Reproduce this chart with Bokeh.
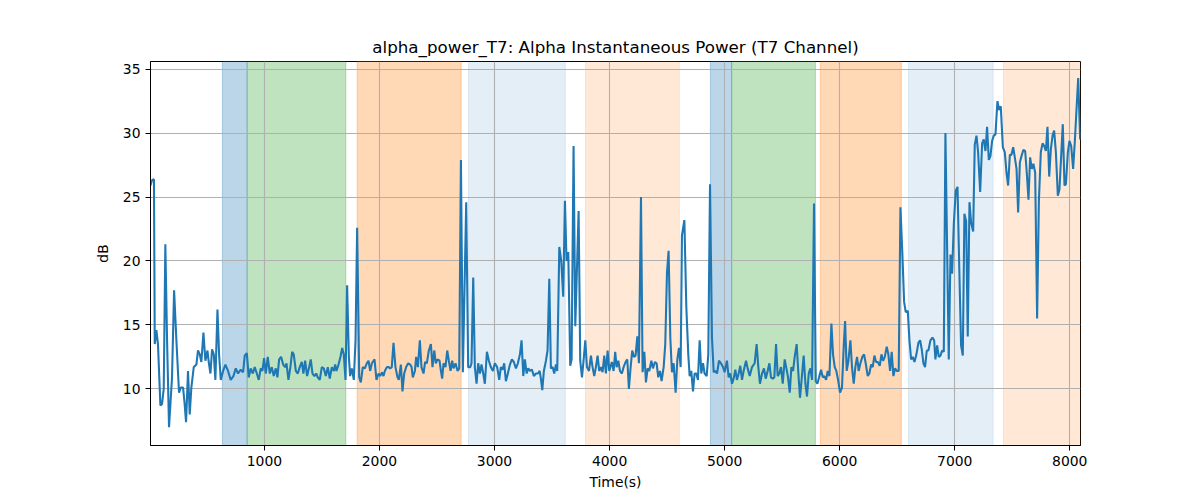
from bokeh.plotting import figure
from bokeh.models import Range1d, BoxAnnotation, FixedTicker, ColumnDataSource
from bokeh.embed import file_html
from bokeh.resources import INLINE

title_text = "alpha_power_T7: Alpha Instantaneous Power (T7 Channel)"
x_label = "Time(s)"
y_label = "dB"

x_ticks = [1000, 2000, 3000, 4000, 5000, 6000, 7000, 8000]
y_ticks = [10, 15, 20, 25, 30, 35]

# shaded intervals (start, end) with colour and opacity
span_starts = [635, 850, 1806, 2774, 3791, 4876, 5061, 5832, 6597, 7423]
span_ends = [850, 1708, 2710, 3615, 4606, 5061, 5789, 6536, 7334, 8093]
span_colors = ["#1f77b4", "#2ca02c", "#ff7f0e", "#1f77b4", "#ff7f0e",
               "#1f77b4", "#2ca02c", "#ff7f0e", "#1f77b4", "#ff7f0e"]
span_alphas = [0.3, 0.3, 0.3, 0.12, 0.17, 0.3, 0.3, 0.3, 0.12, 0.17]

time_s = [
    10, 22, 40, 47, 61, 75, 96, 110, 125, 139, 154, 171, 197, 215, 235, 258, 273, 293, 307, 319,
    336, 351, 365, 386, 409, 423, 438, 452, 470, 487, 505, 516, 531, 545, 560, 574, 592, 606, 621, 641,
    661, 684, 707, 731, 751, 771, 794, 815, 829, 847, 864, 881, 899, 916, 934, 951, 968, 983, 997,
    1012, 1029, 1047,
    1064, 1081, 1099, 1113, 1128, 1145, 1163, 1180, 1192, 1209, 1226, 1241, 1255, 1273, 1290, 1307,
    1325, 1339, 1354, 1371, 1389, 1403, 1418, 1435, 1450, 1464, 1481, 1499, 1516, 1534, 1551, 1568,
    1586, 1603, 1615, 1626, 1644, 1661, 1676, 1690, 1705, 1719, 1734, 1745, 1760, 1777, 1792, 1806,
    1824, 1838, 1855, 1873, 1890, 1905, 1919, 1934, 1957, 1974, 1992,
    2006, 2023, 2035, 2047, 2064, 2081, 2093, 2107, 2122, 2139, 2157, 2168, 2186, 2200, 2215, 2232,
    2250, 2267, 2279, 2290, 2308, 2319, 2334, 2351, 2365, 2383, 2397, 2412, 2429, 2447, 2461, 2476,
    2490, 2505, 2522, 2534, 2545, 2557, 2574, 2589, 2603, 2618, 2632, 2644, 2661, 2679, 2693, 2708,
    2725, 2754, 2771, 2789, 2800, 2815, 2829, 2844, 2858, 2873, 2887, 2902, 2916, 2934, 2951, 2968,
    2986, 3003,
    3023, 3041, 3055, 3070, 3084, 3099, 3116, 3134, 3151, 3168, 3186, 3203, 3221, 3235, 3250, 3264,
    3279, 3293, 3308, 3325, 3342, 3360, 3377, 3392, 3403, 3415, 3429, 3447, 3461, 3476, 3490, 3505,
    3519, 3534, 3545, 3563, 3580, 3597, 3612, 3626, 3641, 3658, 3670, 3687, 3702, 3731, 3745, 3760,
    3774, 3789, 3803, 3821, 3838, 3852, 3867, 3881, 3896, 3910, 3925, 3939, 3954, 3968, 3983, 3997,
    4020, 4035, 4049, 4061, 4076, 4090, 4107, 4122, 4139, 4154, 4168, 4183, 4197, 4212, 4226, 4241,
    4255, 4273, 4287, 4302, 4316, 4331, 4345, 4363, 4377, 4394, 4409, 4423, 4438, 4452, 4470, 4484,
    4499, 4513, 4528, 4542, 4557, 4574, 4589, 4603, 4618, 4629, 4650, 4667, 4684, 4696, 4710, 4725,
    4739, 4754, 4768, 4783, 4797, 4812, 4826, 4844, 4858, 4873, 4890, 4905, 4919, 4934, 4951, 4968,
    4986, 5000,
    5020, 5035, 5049, 5064, 5078, 5093, 5107, 5122, 5136, 5151, 5165, 5186, 5200, 5218, 5238, 5261,
    5278, 5293, 5307, 5325, 5342, 5357, 5374, 5389, 5403, 5418, 5432, 5447, 5461, 5476, 5490, 5505,
    5522, 5537, 5551, 5566, 5580, 5595, 5609, 5626, 5641, 5655, 5670, 5687, 5702, 5716, 5731, 5745,
    5760, 5777, 5792, 5806, 5821, 5838, 5853, 5867, 5882, 5896, 5911, 5928, 5942, 5957, 5971, 5986,
    6003,
    6020, 6035, 6047, 6061, 6076, 6093, 6107, 6122, 6136, 6151, 6165, 6180, 6197, 6212, 6226, 6244,
    6258, 6273, 6287, 6302, 6316, 6331, 6348, 6363, 6377, 6392, 6409, 6423, 6438, 6452, 6467, 6481,
    6496, 6513, 6528, 6545, 6560, 6574, 6592, 6606, 6621, 6635, 6650, 6667, 6684, 6699, 6713, 6728,
    6742, 6757, 6771, 6789, 6806, 6821, 6832, 6847, 6861, 6876, 6890, 6905, 6919, 6948, 6963, 6977,
    6992, 7009, 7024,
    7041, 7055, 7070, 7084, 7099, 7113, 7128, 7142, 7160, 7174, 7189, 7203, 7221, 7238, 7252, 7267,
    7281, 7296, 7310, 7325, 7339, 7354, 7371, 7386, 7400, 7418, 7435, 7450, 7464, 7479, 7493, 7508,
    7522, 7537, 7551, 7566, 7580, 7597, 7612, 7626, 7641, 7655, 7670, 7684, 7699, 7716, 7731, 7748,
    7763, 7777, 7792, 7806, 7821, 7835, 7850, 7864, 7879, 7896, 7910, 7925, 7939, 7954, 7966, 7983,
    7997, 8012, 8029, 8044, 8058, 8073, 8090,
]

power_db = [
    25.9, 26.3, 26.4, 13.5, 14.6, 13.5, 8.7, 8.8, 10.0, 21.3, 13.8, 7.0, 10.9, 17.7, 13.8, 9.7, 10.1, 10.1, 8.8, 7.4,
    11.4, 8.0, 10.1, 11.7, 11.9, 13.0, 12.7, 12.1, 14.4, 12.2, 13.0, 12.1, 11.2, 13.1, 12.7, 10.7, 16.2, 12.7, 10.7, 11.4,
    11.9, 11.4, 10.7, 11.0, 11.6, 11.2, 11.5, 11.3, 12.6, 12.8, 10.9, 11.6, 11.2, 11.7, 11.2, 10.7, 11.6, 11.4, 12.4,
    11.2, 12.5, 11.2,
    11.7, 11.0, 11.6, 10.9, 12.3, 12.5, 11.9, 11.7, 12.0, 10.7, 11.7, 12.9, 12.7, 11.4, 11.2, 11.7,
    12.1, 11.2, 12.2, 11.0, 11.7, 12.3, 11.2, 11.0, 11.2, 10.9, 10.7, 11.7, 11.6, 11.0, 11.7, 10.8,
    11.7, 11.4, 11.9, 11.4, 11.9, 12.5, 13.2, 12.7, 10.7, 18.1, 12.5, 11.0, 11.6, 10.7, 13.8, 22.6,
    10.9, 10.5, 11.7, 11.6, 12.0, 12.2, 11.4, 12.0, 12.3, 10.7, 11.2,
    11.0, 11.3, 11.0, 11.4, 11.7, 11.7, 11.6, 11.7, 13.6, 11.7, 10.9, 10.7, 11.9, 9.8, 11.2, 11.7,
    12.0, 11.9, 11.7, 10.9, 11.4, 12.5, 11.7, 13.8, 11.7, 11.2, 12.1, 12.0, 13.0, 13.5, 11.7, 13.0,
    12.0, 12.3, 12.2, 11.4, 10.8, 12.0, 11.7, 13.0, 12.2, 11.4, 12.2, 11.6, 12.0, 11.4, 11.6, 27.9,
    11.3, 24.6, 11.7, 11.7, 12.0, 18.7, 11.7, 10.4, 12.0, 11.2, 11.9, 11.2, 10.4, 12.9, 12.2, 11.7,
    11.4, 12.0,
    11.7, 10.7, 11.7, 11.5, 12.0, 10.6, 11.2, 11.9, 12.3, 12.1, 11.6, 12.0, 12.7, 13.8, 11.0, 12.3,
    11.2, 11.6, 11.4, 11.5, 11.0, 11.2, 11.2, 11.4, 10.8, 9.9, 11.4, 12.2, 13.0, 18.6, 11.6, 11.7,
    11.2, 11.9, 11.4, 21.1, 20.0, 17.2, 24.7, 20.0, 20.7, 11.8, 12.3, 29.0, 14.9, 23.9, 12.2, 10.9,
    12.2, 13.8, 11.7, 11.4, 12.6, 11.7, 11.0, 11.7, 12.6, 11.4, 11.7, 11.3, 12.6, 11.2, 13.0, 11.4,
    12.1, 11.4, 12.9, 11.7, 12.2, 11.4, 11.2, 11.7, 12.1, 12.3, 10.0, 11.7, 13.0, 12.5, 12.6, 14.1,
    12.0, 25.0, 11.3, 12.9, 10.5, 11.6, 11.4, 12.2, 11.6, 12.1, 12.0, 10.9, 11.4, 10.6, 11.7, 13.5,
    19.1, 20.8, 14.0, 11.3, 12.0, 9.7, 12.3, 13.2, 11.7, 22.0, 23.2, 16.4, 12.7, 11.0, 11.4, 9.8,
    11.2, 11.2, 10.7, 13.8, 11.2, 12.0, 11.2, 11.0, 12.7, 26.0, 14.0, 11.3, 11.4, 11.2, 12.2, 12.0,
    11.7, 11.3,
    12.2, 10.9, 11.2, 10.4, 10.8, 11.5, 10.7, 11.2, 11.8, 10.7, 11.4, 12.2, 11.6, 11.0, 11.7, 12.0,
    13.5, 11.7, 10.4, 11.2, 11.6, 10.8, 11.4, 12.0, 10.9, 10.8, 10.9, 13.5, 11.0, 11.2, 11.7, 10.4,
    12.3, 11.6, 10.9, 9.7, 11.7, 11.4, 12.5, 13.5, 11.2, 9.3, 10.8, 12.6, 10.4, 9.4, 11.2, 11.6,
    10.7, 24.5, 10.6, 10.4, 10.9, 11.5, 10.9, 11.0, 10.7, 11.4, 11.0, 15.1, 12.7, 11.7, 11.4, 10.7,
    9.7,
    10.1, 13.3, 15.3, 11.4, 12.2, 13.8, 11.7, 10.4, 11.7, 12.5, 11.4, 12.0, 12.5, 12.7, 12.0, 11.0,
    11.2, 11.9, 11.7, 12.6, 12.1, 12.1, 11.8, 12.7, 12.2, 12.5, 13.3, 12.7, 11.4, 12.9, 11.0, 11.6,
    11.4, 11.4, 24.2, 20.5, 16.8, 16.0, 16.1, 13.8, 12.3, 12.5, 12.1, 12.7, 13.6, 13.8, 13.1, 12.0,
    11.7, 13.0, 13.0, 13.8, 14.0, 13.8, 12.3, 13.4, 12.5, 12.6, 13.0, 12.9, 30.0, 12.3, 20.5, 19.0,
    22.9, 25.5, 25.8,
    18.8, 13.4, 12.6, 23.7, 23.1, 14.1, 24.6, 23.0, 22.3, 29.1, 29.8, 28.5, 25.4, 29.2, 29.5, 28.6,
    30.5, 27.9, 28.2, 29.4, 29.8, 29.9, 32.5, 31.8, 32.1, 28.9, 28.5, 26.9, 25.9, 28.3, 28.3, 28.9,
    28.1, 27.2, 23.8, 27.7, 28.2, 28.7, 28.6, 26.9, 24.8, 28.1, 27.2, 27.6, 26.9, 15.5, 24.6, 28.5,
    29.2, 29.0, 28.6, 30.5, 26.6, 28.7, 29.8, 30.2, 28.5, 25.1, 25.6, 28.2, 30.7, 25.9, 26.0, 28.5,
    29.4, 29.0, 27.2, 29.4, 31.8, 34.3, 29.5,
]

n = min(len(time_s), len(power_db))
source = ColumnDataSource(data=dict(t=time_s[:n], v=power_db[:n]))

p = figure(width=1184, height=492, output_backend="svg", toolbar_location=None,
           x_range=Range1d(10, 8093), y_range=Range1d(5.57, 35.6),
           title=title_text)
p.min_border_left = 150
p.min_border_right = 104
p.min_border_top = 61
p.min_border_bottom = 47
p.background_fill_color = "white"
p.border_fill_color = "white"
p.outline_line_color = "black"
p.outline_line_alpha = 1
p.outline_line_width = 1

p.title.align = "center"
p.title.text_font = "DejaVu Sans"
p.title.text_font_size = "16.7px"
p.title.text_font_style = "normal"
p.title.text_color = "black"

for s, e, c, a in zip(span_starts, span_ends, span_colors, span_alphas):
    box = BoxAnnotation(left=s, right=e, fill_color=c, fill_alpha=a,
                        line_color=c, line_alpha=a, line_width=1, level="image")
    p.add_layout(box)

p.line("t", "v", source=source, line_color="#1f77b4", line_width=2.08)

p.xaxis.ticker = FixedTicker(ticks=x_ticks)
p.yaxis.ticker = FixedTicker(ticks=y_ticks)
p.xaxis.axis_label = x_label
p.yaxis.axis_label = y_label

for ax in [p.xaxis[0], p.yaxis[0]]:
    ax.axis_line_color = "black"
    ax.major_tick_line_color = "black"
    ax.major_tick_out = 5
    ax.major_tick_in = 0
    ax.minor_tick_out = 0
    ax.minor_tick_in = 0
    ax.major_label_text_font = "DejaVu Sans"
    ax.major_label_text_font_size = "13.9px"
    ax.major_label_text_color = "black"
    ax.axis_label_text_font = "DejaVu Sans"
    ax.axis_label_text_font_size = "13.9px"
    ax.axis_label_text_font_style = "normal"
    ax.axis_label_text_color = "black"
    ax.major_label_standoff = 5

p.xaxis.axis_label_standoff = 5
p.yaxis.axis_label_standoff = 9

for g in [p.xgrid[0], p.ygrid[0]]:
    g.grid_line_color = "#b0b0b0"
    g.grid_line_width = 1.1
    g.grid_line_alpha = 1
p.xgrid.ticker = FixedTicker(ticks=x_ticks)
p.ygrid.ticker = FixedTicker(ticks=y_ticks)

open("out.html", "w").write(file_html(p, INLINE))
